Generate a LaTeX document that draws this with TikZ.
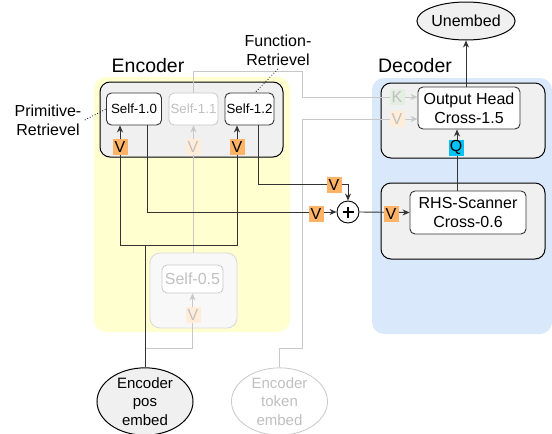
\documentclass[tikz,border=0pt]{standalone}
\usepackage{fontspec}
\setmainfont{Liberation Sans}
\usetikzlibrary{arrows.meta,shapes.geometric}
\definecolor{encbg}{HTML}{FFFFD0}
\definecolor{decbg}{HTML}{DAE8FC}
\definecolor{grpfill}{HTML}{F0F0F0}
\definecolor{vorange}{HTML}{FFB366}
\definecolor{qcyan}{HTML}{00C3F5}
\definecolor{kgreen}{HTML}{D5E8D4}
\definecolor{wire}{HTML}{333333}
\definecolor{fadeline}{HTML}{C8C8C8}
\definecolor{fadetext}{HTML}{C0C0C0}
\begin{document}
\begin{tikzpicture}[x=1pt,y=-1pt,
  tip/.style={-{Stealth[length=7pt,width=6pt]}},
  bgpanel/.style={rounded corners=12pt, inner sep=0},
  group/.style={draw=black, fill=grpfill, rounded corners=10pt, line width=1pt, inner sep=0},
  box/.style={draw=wire, fill=white, rounded corners=5pt, line width=0.9pt, inner sep=0, align=center},
  selfbox/.style={box, minimum height=32pt, font=\fontsize{13.3}{15}\selectfont},
  headbox/.style={box, font=\fontsize{16}{19}\selectfont},
  tag/.style={inner sep=0, minimum width=15pt, minimum height=16pt, font=\fontsize{16}{16}\selectfont},
  vtag/.style={tag, fill=vorange},
  wireline/.style={draw=wire, line width=0.9pt},
  faded/.style={draw=fadeline, line width=0.8pt},
  fadedbox/.style={draw=fadeline, fill=white, rounded corners=5pt, line width=0.8pt, inner sep=0, text=fadetext},
  title/.style={font=\fontsize{19.5}{22}\selectfont},
  note/.style={font=\fontsize{16}{19}\selectfont, align=center},
  blob/.style={ellipse, draw=black, fill=grpfill, line width=1pt, inner sep=0, align=center}
]
\useasboundingbox (0,0) rectangle (552,434);

% background panels
\node[bgpanel, fill=encbg, minimum width=196pt, minimum height=255pt] (encpanel) at (192,204.5) {};
\node[bgpanel, fill=decbg, minimum width=180pt, minimum height=256pt] (decpanel) at (462,206) {};
\node[title] (enctitle) at (148,66) {Encoder};
\node[title] (dectitle) at (415,66) {Decoder};

% grouping boxes
\node[group, minimum width=183pt, minimum height=75pt] (encgrp) at (191.5,119.5) {};
\node[group, minimum width=164pt, minimum height=75pt] (dectop) at (463,120.5) {};
\node[group, minimum width=164pt, minimum height=76pt] (decbot) at (463,221) {};
\node[draw=fadeline!70, fill=grpfill!50, rounded corners=10pt, line width=0.8pt,
      minimum width=87pt, minimum height=75pt, inner sep=0] (lowgrp) at (193.5,290.5) {};

% heads
\node[selfbox, minimum width=55pt] (s10) at (134,109) {Self-1.0};
\node[fadedbox, minimum width=49pt, minimum height=32pt, font=\fontsize{13.3}{15}\selectfont] (s11) at (193.5,109) {Self-1.1};
\node[selfbox, minimum width=49pt] (s12) at (249.5,109) {Self-1.2};
\node[fadedbox, minimum width=61pt, minimum height=28pt, font=\fontsize{16}{19}\selectfont] (s05) at (192.5,279) {Self-0.5};
\node[headbox, minimum width=102pt, minimum height=42pt] (oh) at (469,108) {Output Head\\Cross-1.5};
\node[headbox, minimum width=116pt, minimum height=43pt] (rhs) at (468,212.5) {RHS-Scanner\\Cross-0.6};

% embeddings
\node[blob, minimum width=98pt, minimum height=38pt, font=\fontsize{16}{19}\selectfont] (ue) at (466,21) {Unembed};
\node[blob, minimum width=96pt, minimum height=63pt, font=\fontsize{15}{18.3}\selectfont] (pe) at (145,401.5) {Encoder\\pos\\embed};
\node[ellipse, draw=fadeline, fill=white, line width=0.8pt, inner sep=0, align=center, text=fadetext,
      minimum width=96pt, minimum height=63pt, font=\fontsize{15}{18.3}\selectfont] (te) at (279.5,401.5) {Encoder\\token\\embed};

% sum node
\node[circle, draw=black, fill=white, line width=0.9pt, minimum size=22pt, inner sep=0] (plus) at (348,212) {};
\draw[line width=1.2pt] ([xshift=-5.5pt]plus.center) -- ([xshift=5.5pt]plus.center)
                        ([yshift=-5.5pt]plus.center) -- ([yshift=5.5pt]plus.center);

% faded connectors (canvas yshift points up)
\coordinate (tokturn) at (302,348);
\coordinate (kturn) at (302,71);
\coordinate (kin) at ([yshift=11pt]oh.west);
\coordinate (vin) at ([yshift=-11pt]oh.west);
\draw[faded, tip] (s11.north) -- (s11.north |- kturn) -- (kturn) -- (kturn |- kin) -- (kin);
\draw[faded, tip] (te.north) |- (tokturn) -- (tokturn |- vin) -- (vin);
\draw[faded, tip] (145,348) -| (s05.south);
\draw[faded, tip] (lowgrp.north) -- (s11.south);

% encoder wiring
\coordinate (bar) at (145,245);
\draw[wireline, tip] (pe.north) -- (bar) -- (120,245) -- ([xshift=-14pt]s10.south);
\draw[wireline, tip] (bar) -- (237,245) -- ([xshift=-12.5pt]s12.south);
\draw[wireline, tip] ([xshift=13pt]s10.south) |- (plus.west);
\draw[wireline, tip] ([xshift=8.5pt]s12.south) -- ++(0,59) -| (plus.north);

% decoder wiring
\draw[wireline, tip] (plus.east) -- (rhs.west);
\draw[wireline, tip] ([xshift=-11pt]rhs.north) -- ([xshift=-12pt]oh.south);
\draw[wireline, tip] (ue.south |- oh.north) -- (ue.south);

% value / key / query tags
\node[vtag] (v10) at (120,147) {V};
\node[tag, fill=vorange!25, text=fadetext] (v11) at (193,147) {V};
\node[vtag] (v12) at (237,147) {V};
\node[tag, fill=vorange!25, text=fadetext] (v05) at (193,315) {V};
\node[vtag] (vb) at (334,184.5) {V};
\node[vtag] (va) at (316,214) {V};
\node[vtag] (vr) at (391,214) {V};
\node[tag, fill=kgreen!70, text=fadetext] (kh) at (397,97) {K};
\node[tag, fill=vorange!25, text=fadetext] (vh) at (397,119) {V};
\node[tag, fill=qcyan] (qh) at (456,147.5) {Q};

% annotations
\node[note] (prim) at (48,120) {Primitive-\\Retrievel};
\node[note] (func) at (278,50) {Function-\\Retrievel};
\draw[dotted, line width=0.8pt] (prim.east) -- (s10.west);
\draw[dotted, line width=0.8pt] (func.south) -- ([xshift=5.5pt]s12.north);
\end{tikzpicture}
\end{document}
